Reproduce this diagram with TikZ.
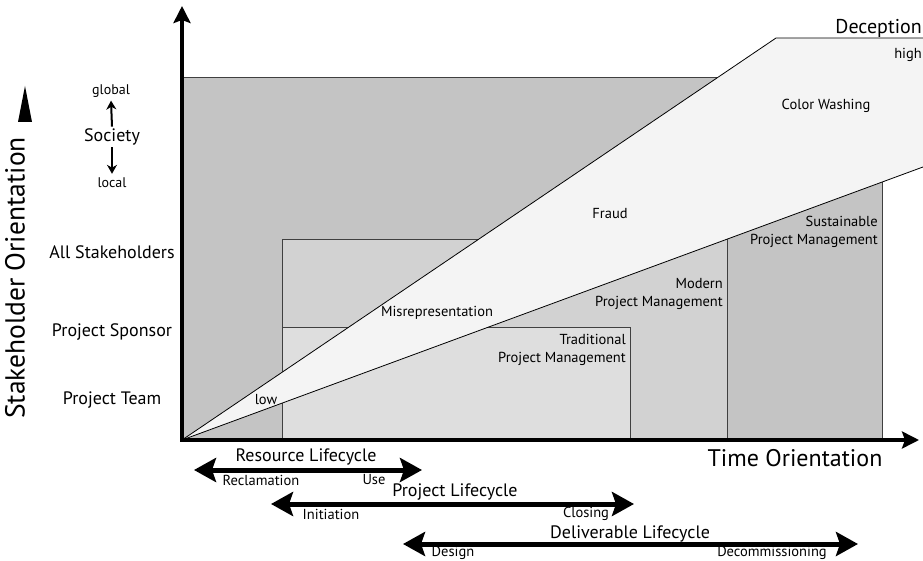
\documentclass[tikz,border=0pt]{standalone}
\usepackage{fontspec}
\setmainfont{PT Sans}
\usepackage{tikz}
\usetikzlibrary{arrows.meta,positioning,calc}
\definecolor{AreaDark}{HTML}{C4C4C4}
\definecolor{AreaMid}{HTML}{D2D2D2}
\definecolor{AreaLight}{HTML}{DEDEDE}
\definecolor{BandFill}{HTML}{F4F4F4}

\begin{document}
\begin{tikzpicture}[x=1pt,y=-1pt,node distance=8pt,
  area/.style={draw=black!75,line width=0.8pt},
  biglab/.style={font=\fontsize{24}{28}\selectfont,inner sep=0pt},
  midlab/.style={font=\fontsize{18}{21}\selectfont,inner sep=0pt},
  inlab/.style={font=\fontsize{14.5}{17.5}\selectfont,inner sep=0pt,align=right},
  endlab/.style={font=\fontsize{14.5}{17}\selectfont,inner sep=0pt},
  axis/.style={line width=4pt,line join=miter,{Stealth[length=17pt,width=17pt,inset=3pt]}-{Stealth[length=17pt,width=17pt,inset=3pt]}},
  cycle line/.style={line width=5pt,{Stealth[length=22pt,width=24pt,inset=4pt]}-{Stealth[length=22pt,width=24pt,inset=4pt]}},
  scope arrow/.style={line width=2pt,-{Stealth[length=9pt,width=10pt]}}]
\useasboundingbox (0,0) rectangle (923,561);
\coordinate (O) at (182,440);
\coordinate (ytip) at (182,6);
\coordinate (xtip) at (919,440);

\fill[AreaDark] (182,77) rectangle (882,440);
\draw[area] (182,77) -- (882,77) -- (882,440);
\filldraw[area,fill=AreaMid] (282,440) rectangle (727,239);
\filldraw[area,fill=AreaLight] (282,440) rectangle (630,327);
\fill[BandFill] (O) -- (776,38) -- (930,38) -- (930,164.4) -- cycle;
\draw[area,black] (O) -- (776,38) -- (930,38);
\draw[area,black] (O) -- (930,164.4);

\draw[axis] (ytip) -- (O) -- (xtip);

\node[biglab,font=\fontsize{27.5}{30}\selectfont,rotate=90] (stake) at (15,278) {Stakeholder Orientation};
\fill (18,122) -- (32,122) -- (25,86) -- cycle;
\node[midlab] (soc) at (112,137) {Society};
\node[endlab,font=\fontsize{14}{16}\selectfont] (glob) at (111,91) {global};
\node[endlab,font=\fontsize{14}{16}\selectfont] (loc) at (112,183) {local};
\draw[scope arrow] ([yshift=2pt]soc.north) -- ([yshift=-3pt]glob.south);
\draw[scope arrow] ([yshift=-2pt]soc.south) -- ([yshift=4pt]loc.north);
\node[midlab] (allst) at (112,252) {All Stakeholders};
\node[midlab] (spons) at (112,332) {Project Sponsor};
\node[midlab] (team) at (112,400) {Project Team};

\node[inlab] (low) at (266,400) {low};
\node[inlab] (misrep) at (437,313) {Misrepresentation};
\node[inlab] (fraud) at (610,214) {Fraud};
\node[inlab] (color) at (826,106) {Color Washing};
\node[inlab,anchor=east] (high) at (922,55) {high};
\node[midlab,font=\fontsize{20}{23}\selectfont,anchor=east] (decep) at (922,28) {Deception};
\node[inlab,anchor=east] (trad) at (626,350) {Traditional\\Project Management};
\node[inlab,anchor=east] (modern) at (723,294) {Modern\\Project Management};
\node[inlab,anchor=east] (sust) at (878,232) {Sustainable\\Project Management};
\node[biglab] (time) at (795,458) {Time Orientation};

\coordinate (resL) at (194,470);
\coordinate (resR) at (422,470);
\draw[cycle line] (resL) -- (resR);
\node[midlab] (res) at (306,457) {Resource Lifecycle};
\node[endlab] (recl) at (261,480) {Reclamation};
\node[endlab] (use) at (374,480) {Use};

\coordinate (projL) at (271,504);
\coordinate (projR) at (634,504);
\draw[cycle line] (projL) -- (projR);
\node[midlab] (proj) at (455,492) {Project Lifecycle};
\node[endlab] (init) at (331,514) {Initiation};
\node[endlab] (clos) at (586,514) {Closing};

\coordinate (delL) at (403,544);
\coordinate (delR) at (858,544);
\draw[cycle line] (delL) -- (delR);
\node[midlab] (deliv) at (630,534) {Deliverable Lifecycle};
\node[endlab] (design) at (453,553) {Design};
\node[endlab] (decom) at (772,553) {Decommissioning};
\end{tikzpicture}
\end{document}
